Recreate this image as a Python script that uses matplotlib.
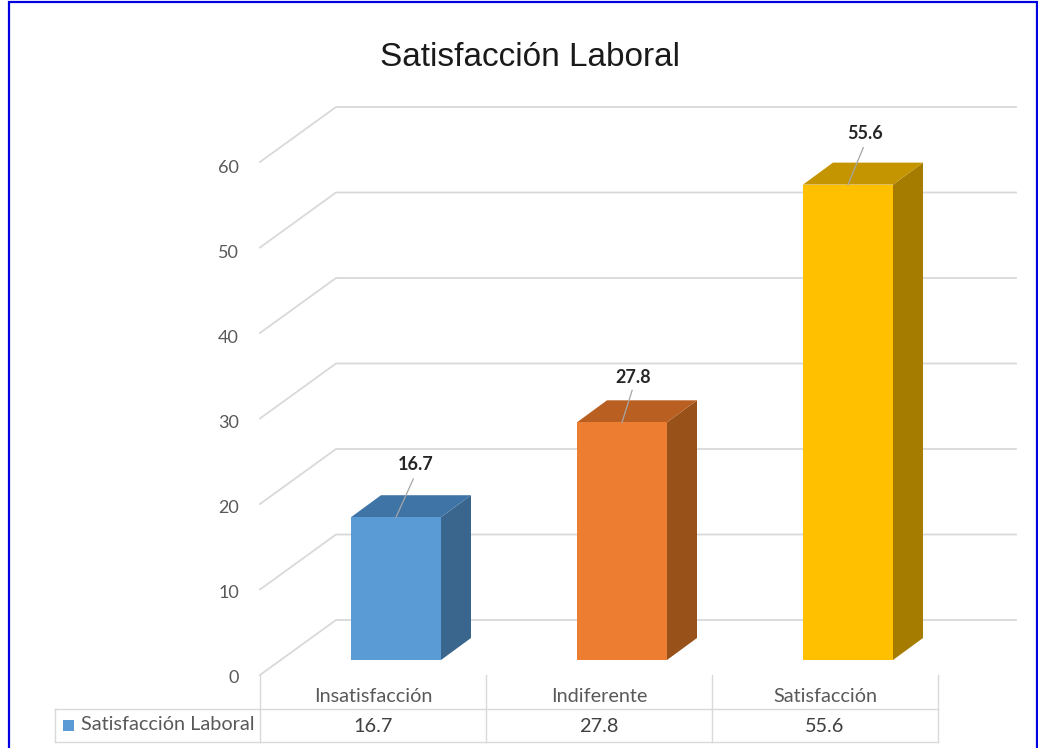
#!/usr/bin/env python3
"""Pseudo-3D column chart with data table: Satisfaccion Laboral."""

import matplotlib
matplotlib.use("Agg")
import matplotlib.pyplot as plt
from matplotlib.patches import Polygon, Rectangle

TITLE = "Satisfacción Laboral"
categories = ["Insatisfacción", "Indiferente", "Satisfacción"]
values = [16.7, 27.8, 55.6]
value_labels = ["16.7", "27.8", "55.6"]
y_ticks = [0, 10, 20, 30, 40, 50, 60]

front_colors = ["#5B9BD5", "#ED7D31", "#FFC000"]
top_colors = ["#3F74A6", "#BA5F22", "#C49500"]
side_colors = ["#3A658C", "#985119", "#A67C00"]

# leader line ends, offset from the bar top (category units, value units)
label_dx = [0.085, 0.05, 0.075]
label_dy = [6.2, 5.2, 6.0]

# reference pixel geometry
W, H = 1038, 748
X0 = 396.0      # centre of the first bar
X_STEP = 226.0  # px per category
Y0 = 660.0      # bar baseline
Y_STEP = 8.55   # px per value unit


def cat_x(px):
    return (px - X0) / X_STEP


def val_y(py):
    return (Y0 - py) / Y_STEP


BAR_W = 90 / X_STEP
DEPTH_X = 30 / X_STEP
DEPTH_Y = 22 / Y_STEP
WALL_BACK_X = cat_x(336)
WALL_FRONT_X = cat_x(260)
WALL_RIGHT_X = cat_x(1016)
WALL_BACK_Y = val_y(620)
WALL_FRONT_Y = val_y(675)

GRID = "#D9D9D9"
TEXT = "#595959"
FONT = "Lato"

fig = plt.figure(figsize=(W / 100, H / 100), dpi=100, facecolor="white")
ax = fig.add_axes([0, 0, 1, 1])
ax.set_xlim(cat_x(0), cat_x(W))
ax.set_ylim(val_y(H), val_y(0))
ax.axis("off")

# page frame
fig.add_artist(Rectangle((9 / W, -0.01), (W - 10) / W, 1 - 2 / H + 0.01, transform=fig.transFigure,
                         fill=False, edgecolor="#0000E0", linewidth=1.6))

# walls and axis labels
for tick in y_ticks:
    ax.plot([WALL_FRONT_X, WALL_BACK_X, WALL_RIGHT_X],
            [WALL_FRONT_Y + tick, WALL_BACK_Y + tick, WALL_BACK_Y + tick],
            color=GRID, linewidth=1.3, solid_joinstyle="miter", zorder=1)
    ax.text(cat_x(239), WALL_FRONT_Y + tick * 0.995 - 0.4, str(tick), ha="right", va="center",
            fontsize=13, color=TEXT, family=FONT)

# columns
for i, value in enumerate(values):
    left, right = i - BAR_W / 2, i + BAR_W / 2
    ax.add_patch(Polygon([(right, 0), (right + DEPTH_X, DEPTH_Y), (right + DEPTH_X, value + DEPTH_Y), (right, value)],
                         facecolor=side_colors[i], edgecolor="none", zorder=3))
    ax.add_patch(Polygon([(left, value), (left + DEPTH_X, value + DEPTH_Y), (right + DEPTH_X, value + DEPTH_Y), (right, value)],
                         facecolor=top_colors[i], edgecolor="none", zorder=3))
    ax.add_patch(Rectangle((left, 0), BAR_W, value, facecolor=front_colors[i], edgecolor="none", zorder=3))
    ax.plot([i, i + label_dx[i] * 0.9], [value, value + label_dy[i] * 0.72],
            color="#A6A6A6", linewidth=0.9, zorder=4)
    ax.text(i + label_dx[i], value + label_dy[i], value_labels[i], ha="center", va="center",
            fontsize=13, fontweight="bold", color="#262626", family=FONT, zorder=5)

# data table
table_x = [cat_x(260) + i for i in range(len(categories) + 1)]
table_left = cat_x(55)
row_top, row_mid, row_bottom = val_y(675), val_y(709), val_y(742)
ax.plot([table_left, table_x[-1]], [row_mid, row_mid], color=GRID, linewidth=1.0)
ax.plot([table_left, table_x[-1]], [row_bottom, row_bottom], color=GRID, linewidth=1.0)
ax.plot([table_left, table_left], [row_mid, row_bottom], color=GRID, linewidth=1.0)
for x in table_x:
    ax.plot([x, x], [row_top, row_bottom], color=GRID, linewidth=1.0)
for i, cat in enumerate(categories):
    xc = (table_x[i] + table_x[i + 1]) / 2
    ax.text(xc, val_y(696.5), cat, ha="center", va="center", fontsize=14.3, color=TEXT, family=FONT)
    ax.text(xc, val_y(727), value_labels[i], ha="center", va="center", fontsize=14.3, color="#404040", family=FONT)
ax.add_patch(Rectangle((cat_x(63), val_y(731)), 11 / X_STEP, 11 / Y_STEP, facecolor=front_colors[0], edgecolor="none"))
ax.text(cat_x(81), val_y(725), TITLE, ha="left", va="center", fontsize=14.3, color=TEXT, family=FONT)

# title
ax.text(cat_x(530), val_y(57), TITLE, ha="center", va="center", fontsize=24, color="#1A1A1A", family="Liberation Sans")

fig.savefig("out.png", dpi=100)
plt.close(fig)
